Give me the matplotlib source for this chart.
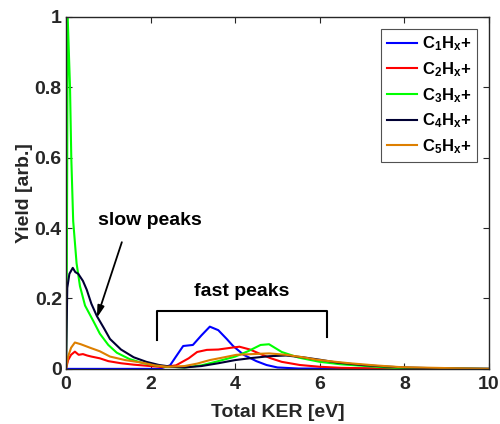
import matplotlib.pyplot as plt

plt.rcParams['font.family'] = ['Liberation Sans', 'DejaVu Sans']
plt.rcParams['font.weight'] = 'bold'
plt.rcParams['mathtext.fontset'] = 'custom'
plt.rcParams['mathtext.rm'] = 'Liberation Sans:bold'
plt.rcParams['mathtext.bf'] = 'Liberation Sans:bold'
plt.rcParams['mathtext.it'] = 'Liberation Sans:bold'

# C1Hx+
c1_x = [0, 2.2, 2.46, 2.6, 2.77, 3.0, 3.2, 3.4, 3.6, 3.8, 3.95, 4.2, 4.5, 4.74, 5.0, 5.5, 10]
c1_y = [0, 0, 0.01, 0.035, 0.065, 0.068, 0.095, 0.12, 0.11, 0.085, 0.065, 0.04, 0.022, 0.011, 0.004, 0.001, 0]

# C2Hx+
c2_x = [0, 0.05, 0.12, 0.21, 0.3, 0.4, 0.5, 0.6, 0.8, 1.0, 1.3, 1.6, 2.0, 2.3, 2.6, 2.9, 3.1, 3.33,
        3.6, 3.9, 4.1, 4.35, 4.6, 4.82, 5.1, 5.53, 6.0, 6.5, 7.0, 8, 10]
c2_y = [0, 0.025, 0.04, 0.049, 0.04, 0.042, 0.038, 0.035, 0.03, 0.022, 0.016, 0.012, 0.008, 0.005,
        0.01, 0.03, 0.048, 0.054, 0.055, 0.06, 0.063, 0.055, 0.042, 0.031, 0.02, 0.011, 0.006, 0.003,
        0.002, 0.001, 0]

# C3Hx+
c3_x = [0.0, 0.02, 0.04, 0.095, 0.125, 0.17, 0.25, 0.33, 0.45, 0.65, 0.8, 1.0, 1.2, 1.5, 1.8, 2.1, 2.4,
        2.8, 3.2, 3.6, 4.0, 4.3, 4.6, 4.8, 5.1, 5.5, 6.0, 6.5, 7.1, 7.6, 8.0, 9, 10]
c3_y = [0.0, 0.3, 1.0, 0.8, 0.6, 0.42, 0.30, 0.235, 0.18, 0.135, 0.10, 0.068, 0.046, 0.028, 0.017,
        0.010, 0.006, 0.004, 0.01, 0.022, 0.035, 0.05, 0.068, 0.07, 0.048, 0.032, 0.02, 0.013, 0.008,
        0.004, 0.002, 0.001, 0.0]

# C4Hx+
c4_x = [0, 0.03, 0.08, 0.16, 0.22, 0.29, 0.4, 0.49, 0.6, 0.73, 0.9, 1.04, 1.3, 1.6, 1.9, 2.2, 2.5, 2.8,
        3.2, 3.6, 4.0, 4.4, 4.8, 5.2, 5.6, 6.0, 6.4, 7.0, 7.5, 8.0, 9.0, 10]
c4_y = [0, 0.23, 0.27, 0.287, 0.275, 0.27, 0.25, 0.225, 0.185, 0.15, 0.115, 0.085, 0.055, 0.033, 0.02,
        0.011, 0.006, 0.004, 0.008, 0.016, 0.025, 0.031, 0.036, 0.038, 0.033, 0.026, 0.018, 0.011,
        0.007, 0.004, 0.001, 0]

# C5Hx+
c5_x = [0, 0.05, 0.12, 0.21, 0.35, 0.57, 0.8, 1.04, 1.4, 1.83, 2.1, 2.4, 2.8, 3.1, 3.4, 3.7, 4.03,
        4.4, 4.8, 5.2, 5.6, 5.93, 6.3, 6.7, 7.3, 7.9, 8.7, 9.5, 10]
c5_y = [0, 0.035, 0.06, 0.075, 0.07, 0.06, 0.05, 0.035, 0.025, 0.017, 0.01, 0.006, 0.008, 0.015,
        0.025, 0.032, 0.04, 0.042, 0.044, 0.04, 0.033, 0.026, 0.021, 0.016, 0.01, 0.005, 0.003,
        0.001, 0]

labels = [r'C$_1$H$_x$+', r'C$_2$H$_x$+', r'C$_3$H$_x$+', r'C$_4$H$_x$+', r'C$_5$H$_x$+']
colors = ['#0000ff', '#ff0000', '#00ff00', '#000033', '#dd7f00']

fig = plt.figure(figsize=(5, 4.24), dpi=100)
ax = fig.add_axes([0.132, 0.130, 0.846, 0.830])

for xs, ys, lab, col in zip([c1_x, c2_x, c3_x, c4_x, c5_x], [c1_y, c2_y, c3_y, c4_y, c5_y], labels, colors):
    ax.plot(xs, ys, color=col, linewidth=1.5, label=lab)

ax.set_xlim(0, 10)
ax.set_ylim(0, 1)
ax.set_xticks([0, 2, 4, 6, 8, 10])
ax.set_yticks([0, 0.2, 0.4, 0.6, 0.8, 1])
ax.set_yticklabels(['0', '0.2', '0.4', '0.6', '0.8', '1'])
ax.tick_params(direction='in', top=True, right=True, labelsize=14, length=4, width=0.8,
               colors='#262626')
ax.tick_params(axis='y', pad=3)
ax.tick_params(axis='x', pad=5)
for s in ax.spines.values():
    s.set_color('#262626')
    s.set_linewidth(1.0)
ax.set_xlabel('Total KER [eV]', fontsize=14, fontweight='bold', labelpad=8, color='#262626')
ax.set_ylabel('Yield [arb.]', fontsize=14, fontweight='bold', labelpad=1, color='#262626')

# annotations
ax.text(1.99, 0.423, 'slow peaks', fontsize=14, fontweight='bold', ha='center', va='center')
ax.annotate('', xy=(0.73, 0.145), xytext=(1.32, 0.36),
            arrowprops=dict(arrowstyle='-|>,head_length=0.7,head_width=0.2', color='black', lw=1.3,
                            shrinkA=0, shrinkB=0))
ax.plot([2.14, 2.14, 6.17, 6.17], [0.082, 0.165, 0.165, 0.092], color='black', linewidth=1.5)
ax.text(4.16, 0.219, 'fast peaks', fontsize=14, fontweight='bold', ha='center', va='center')

leg = ax.legend(loc='upper right', fontsize=12, frameon=True, fancybox=False, handlelength=1.8,
                borderaxespad=0.7, labelspacing=0.42, handletextpad=0.3, borderpad=0.35)
leg.get_frame().set_edgecolor('#262626')
leg.get_frame().set_linewidth(0.8)

fig.savefig('out.png', dpi=100)
